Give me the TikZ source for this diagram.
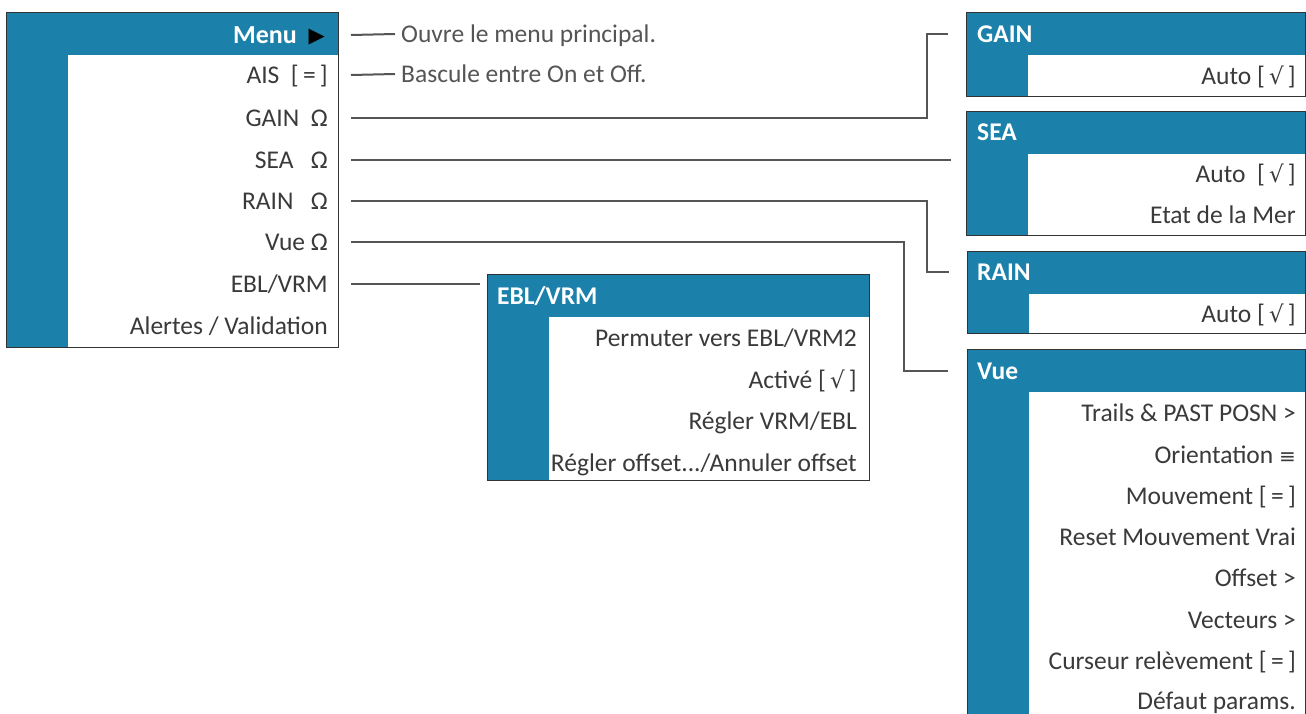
\documentclass[tikz,border=0pt]{standalone}
\usepackage{fontspec}
\setmainfont{Carlito}
\newfontfamily\sym{DejaVu Sans}
\definecolor{blu}{HTML}{1B80AA}
\definecolor{txt}{HTML}{3A3A3A}
\definecolor{ln}{HTML}{555555}
\definecolor{bd}{HTML}{333333}
\newcommand{\chk}{[\,{\sym\fontsize{23}{23}\selectfont √}\,]}
\newcommand{\eqb}{[\,=\,]}
\begin{document}
\begin{tikzpicture}[x=1pt,y=-1pt,
  panel/.style={fill=blu,draw=bd,line width=1.3pt,anchor=north west,inner sep=0pt,
    path picture={\fill[white] ([xshift=61pt,yshift=-42pt]path picture bounding box.north west) rectangle (path picture bounding box.south east);}},
  item/.style={anchor=east,inner sep=0pt,text=txt,font=\fontsize{25.5}{25.5}\selectfont,text height=16pt,text depth=0pt},
  head/.style={anchor=west,inner sep=0pt,text=white,font=\fontsize{25.5}{25.5}\selectfont\bfseries,text height=16pt,text depth=0pt},
  note/.style={anchor=west,inner sep=0pt,text=ln,font=\fontsize{25.5}{25.5}\selectfont,text height=16pt,text depth=0pt},
  conn/.style={draw=ln,line width=2pt}]
\useasboundingbox (0,0) rectangle (1306,713);
\begin{scope}
\clip (0,0) rectangle (1306,713);
% main menu
\node[panel,minimum width=332pt,minimum height=335pt] (menubox) at (6,12) {};
\node[item,text=white,font=\fontsize{26}{26}\selectfont\bfseries] (mmenu) at (325,35) {Menu\ \ {\color{black}\sym\fontsize{21}{21}\selectfont\raisebox{0.5pt}{▶}}};
\node[item] (mais) at (328,75) {AIS\ \ \eqb};
\node[item] (mgain) at (328,118) {GAIN\ \ Ω};
\node[item] (msea) at (328,160) {SEA\ \ \ Ω};
\node[item] (mrain) at (328,201) {RAIN\ \ \ Ω};
\node[item] (mvue) at (328,242) {Vue Ω};
\node[item] (mebl) at (328,284) {EBL/VRM};
\node[item] (malert) at (328,326) {Alertes / Validation};
% notes
\node[note] (ouvre) at (401,34) {Ouvre le menu principal.};
\node[note] (bascule) at (401,74) {Bascule entre On et Off.};
% GAIN
\node[panel,minimum width=339pt,minimum height=84pt] (gainbox) at (966,12) {};
\node[head] (gainhead) at (977,34) {GAIN};
\node[item] (gain1) at (1296,76) {Auto \chk};
% SEA
\node[panel,minimum width=339pt,minimum height=124pt] (seabox) at (966,111) {};
\node[head] (seahead) at (977,132) {SEA};
\node[item] (sea1) at (1296,174) {Auto\ \ \chk};
\node[item] (sea2) at (1296,215) {Etat de la Mer};
% RAIN
\node[panel,minimum width=338pt,minimum height=82pt] (rainbox) at (967,251) {};
\node[head] (rainhead) at (977,272) {RAIN};
\node[item] (rain1) at (1296,314) {Auto \chk};
% Vue
\node[panel,minimum width=338pt,minimum height=420pt] (vuebox) at (967,349) {};
\node[head] (vuehead) at (977,371) {Vue};
\node[item] (vue1) at (1296,413) {Trails \& PAST POSN >};
\node[item] (vue2) at (1296,455) {Orientation {\sym\fontsize{20}{20}\selectfont ≡}};
\node[item] (vue3) at (1296,496) {Mouvement \eqb};
\node[item] (vue4) at (1296,537) {Reset Mouvement Vrai};
\node[item] (vue5) at (1296,578) {Offset >};
\node[item] (vue6) at (1296,620) {Vecteurs >};
\node[item] (vue7) at (1296,661) {Curseur relèvement \eqb};
\node[item] (vue8) at (1296,701) {Défaut params.};
% EBL/VRM
\node[panel,minimum width=382pt,minimum height=206pt] (eblbox) at (487,274) {};
\node[head] (eblhead) at (497,296) {EBL/VRM};
\node[item] (ebl1) at (857,338) {Permuter vers EBL/VRM2};
\node[item] (ebl2) at (857,380) {Activé \chk};
\node[item] (ebl3) at (857,421) {Régler VRM/EBL};
\node[item] (ebl4) at (857,463) {Régler offset.../Annuler offset};
% connectors
\draw[conn] ([xshift=26pt]mmenu.east) -- ([xshift=-6pt]ouvre.west);
\draw[conn] ([xshift=23pt]mais.east) -- ([xshift=-6pt]bascule.west);
\draw[conn] ([xshift=23pt]mgain.east) -| ([xshift=-39pt]gainbox.west |- gainhead.west) -- ([xshift=-18pt]gainbox.west |- gainhead.west);
\draw[conn] ([xshift=23pt]msea.east) -- ([xshift=-15pt]seabox.west |- msea.east);
\draw[conn] ([xshift=23pt]mrain.east) -| ([xshift=-40pt]rainbox.west |- rainhead.west) -- ([xshift=-18pt]rainbox.west |- rainhead.west);
\draw[conn] ([xshift=23pt]mvue.east) -| ([xshift=-63pt]vuebox.west |- vuehead.west) -- ([xshift=-19pt]vuebox.west |- vuehead.west);
\draw[conn] ([xshift=23pt]mebl.east) -- ([xshift=-7pt]eblbox.west |- mebl.east);
\end{scope}
\end{tikzpicture}
\end{document}
